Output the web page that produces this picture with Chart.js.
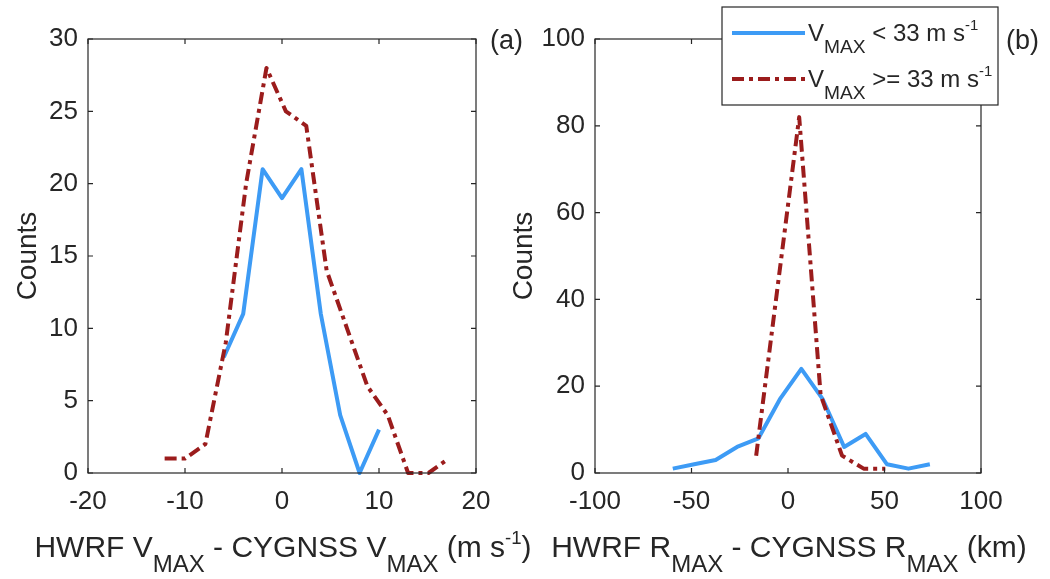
<!DOCTYPE html>
<html>
<head>
<meta charset="utf-8">
<script src="https://cdn.jsdelivr.net/npm/chart.js@4.4.1/dist/chart.umd.min.js"></script>
<style>
  html, body { margin: 0; padding: 0; background: #ffffff; }
  #wrap { position: relative; width: 1050px; height: 579px; overflow: hidden; }
  #wrap canvas { position: absolute; left: 0; top: 0; }
</style>
</head>
<body>
<div id="wrap">
  <canvas id="panelA" width="1050" height="579"></canvas>
  <canvas id="panelB" width="1050" height="579"></canvas>
</div>
<script>
// ---- Panel (a): HWRF VMAX - CYGNSS VMAX histogram counts ----
const vmaxWeakX   = [-6, -4, -2, 0, 2, 4, 6, 8, 10];
const vmaxWeakY   = [8, 11, 21, 19, 21, 11, 4, 0, 3];
const vmaxStrongX = [-12.1, -10.0, -7.9, -5.8, -3.7, -1.6, 0.4, 2.5, 4.6, 6.7, 8.8, 10.9, 13.0, 15.1, 17.2];
const vmaxStrongY = [1, 1, 2, 9, 20, 28, 25, 24, 14, 10, 6, 4, 0, 0, 1];
const vmaxXTicks  = [-20, -10, 0, 10, 20];
const vmaxYTicks  = [0, 5, 10, 15, 20, 25, 30];

// ---- Panel (b): HWRF RMAX - CYGNSS RMAX histogram counts ----
const rmaxWeakX   = [-59.7, -48.6, -37.5, -26.4, -15.3, -4.2, 6.9, 18.0, 29.1, 40.2, 51.3, 62.4, 73.5];
const rmaxWeakY   = [1, 2, 3, 6, 8, 17, 24, 17, 6, 9, 2, 1, 2];
const rmaxStrongX = [-16.5, 5.8, 16.9, 28.0, 39.2, 50.4];
const rmaxStrongY = [4, 82, 18, 4, 1, 1];
const rmaxXTicks  = [-100, -50, 0, 50, 100];
const rmaxYTicks  = [0, 20, 40, 60, 80, 100];

const seriesNames = ['< 33 m s', '>= 33 m s'];

const FONT = "'Liberation Sans', Arial, Helvetica, sans-serif";
const INK = '#262626';
const BLUE = '#3d9bf5';
const RED = '#9b1c1c';
const RED_DASH = [12, 5, 4, 5];

function pts(xs, ys) { return xs.map((x, i) => ({ x: x, y: ys[i] })); }

// Draws a run of text pieces with subscripts / superscripts, starting at x (or centred on x).
function richText(ctx, pieces, x, y, size, align) {
  const styles = {
    n:   { f: size,        dy: 0 },
    sub: { f: size * 0.8,  dy: size * 0.5 },
    sup: { f: size * 0.62, dy: -size * 0.45 }
  };
  let total = 0;
  pieces.forEach(p => {
    ctx.font = styles[p.s].f + 'px ' + FONT;
    p.w = ctx.measureText(p.t).width;
    total += p.w;
  });
  let cx = align === 'center' ? x - total / 2 : x;
  ctx.textBaseline = 'alphabetic';
  ctx.textAlign = 'left';
  pieces.forEach(p => {
    ctx.font = styles[p.s].f + 'px ' + FONT;
    ctx.fillText(p.t, cx, y + styles[p.s].dy);
    cx += p.w;
  });
}

// Axis box plus inward tick marks on all four sides, drawn from the scales.
const boxPlugin = {
  id: 'boxTicks',
  afterDatasetsDraw(chart) {
    const { ctx, chartArea: a, scales } = chart;
    ctx.save();
    ctx.strokeStyle = INK;
    ctx.lineWidth = 1.2;
    ctx.strokeRect(a.left, a.top, a.right - a.left, a.bottom - a.top);
    const L = 5;
    ctx.beginPath();
    scales.x.ticks.forEach(t => {
      const px = scales.x.getPixelForValue(t.value);
      ctx.moveTo(px, a.bottom); ctx.lineTo(px, a.bottom - L);
      ctx.moveTo(px, a.top);    ctx.lineTo(px, a.top + L);
    });
    scales.y.ticks.forEach(t => {
      const py = scales.y.getPixelForValue(t.value);
      ctx.moveTo(a.left, py);  ctx.lineTo(a.left + L, py);
      ctx.moveTo(a.right, py); ctx.lineTo(a.right - L, py);
    });
    ctx.stroke();
    ctx.restore();
  }
};

// X-axis title with subscripts and the panel letter.
const labelPlugin = {
  id: 'panelLabels',
  afterDraw(chart, args, opts) {
    const { ctx, chartArea: a } = chart;
    ctx.save();
    ctx.fillStyle = INK;
    richText(ctx, opts.xTitle, (a.left + a.right) / 2 + 1, opts.titleY, 30, 'center');
    ctx.font = '27px ' + FONT;
    ctx.textAlign = 'left';
    ctx.textBaseline = 'alphabetic';
    ctx.fillText(opts.letter, opts.letterX, opts.letterY);
    ctx.restore();
  }
};

// Legend box with line samples taken from the datasets' own styles.
const legendPlugin = {
  id: 'subLegend',
  afterDraw(chart, args, opts) {
    if (!opts.show) return;
    const { ctx } = chart;
    const b = opts.box;
    ctx.save();
    ctx.fillStyle = '#ffffff';
    ctx.fillRect(b.x, b.y, b.w, b.h);
    ctx.strokeStyle = INK;
    ctx.lineWidth = 1.2;
    ctx.strokeRect(b.x, b.y, b.w, b.h);
    chart.data.datasets.forEach((ds, i) => {
      const ly = b.y + opts.rowY[i];
      ctx.strokeStyle = ds.borderColor;
      ctx.lineWidth = ds.borderWidth;
      ctx.setLineDash(ds.borderDash || []);
      ctx.beginPath();
      ctx.moveTo(b.x + 10, ly);
      ctx.lineTo(b.x + 83, ly);
      ctx.stroke();
      ctx.setLineDash([]);
      ctx.fillStyle = INK;
      richText(ctx, [
        { t: 'V', s: 'n' }, { t: 'MAX', s: 'sub' },
        { t: ' ' + seriesNames[i], s: 'n' }, { t: '-1', s: 'sup' }
      ], b.x + 86, ly + 8, 24, 'left');
    });
    ctx.restore();
  }
};

function makeChart(id, cfg) {
  return new Chart(document.getElementById(id), {
    type: 'line',
    data: {
      datasets: [
        {
          label: 'VMAX < 33 m s-1',
          data: pts(cfg.weakX, cfg.weakY),
          borderColor: BLUE, borderWidth: 4, pointRadius: 0, borderJoinStyle: 'round',
          tension: 0, fill: false, clip: false, order: 2
        },
        {
          label: 'VMAX >= 33 m s-1',
          data: pts(cfg.strongX, cfg.strongY),
          borderColor: RED, borderWidth: 4, borderDash: RED_DASH, pointRadius: 0, borderJoinStyle: 'round',
          tension: 0, fill: false, clip: false, order: 1
        }
      ]
    },
    options: {
      responsive: false,
      animation: false,
      layout: { padding: cfg.padding },
      plugins: {
        legend: { display: false },
        tooltip: { enabled: false },
        panelLabels: cfg.labels,
        subLegend: cfg.legend
      },
      scales: {
        x: {
          type: 'linear',
          min: cfg.xTicks[0], max: cfg.xTicks[cfg.xTicks.length - 1],
          afterBuildTicks: s => { s.ticks = cfg.xTicks.map(v => ({ value: v })); },
          afterFit: s => { s.height = cfg.xAxisH; },
          grid: { display: false, drawTicks: false },
          border: { display: false },
          ticks: { color: INK, font: { family: FONT, size: 26 }, padding: 13, maxRotation: 0, autoSkip: false }
        },
        y: {
          type: 'linear',
          min: cfg.yTicks[0], max: cfg.yTicks[cfg.yTicks.length - 1],
          afterBuildTicks: s => { s.ticks = cfg.yTicks.map(v => ({ value: v })); },
          afterFit: s => { s.width = cfg.yAxisW; },
          grid: { display: false, drawTicks: false },
          border: { display: false },
          title: { display: true, text: 'Counts', color: INK, font: { family: FONT, size: 28 }, padding: { top: cfg.titlePad, bottom: 0 } },
          ticks: { color: INK, font: { family: FONT, size: 26 }, padding: 10, autoSkip: false }
        }
      }
    },
    plugins: [boxPlugin, labelPlugin, legendPlugin]
  });
}

makeChart('panelA', {
  weakX: vmaxWeakX, weakY: vmaxWeakY, strongX: vmaxStrongX, strongY: vmaxStrongY,
  xTicks: vmaxXTicks, yTicks: vmaxYTicks,
  padding: { left: 0, right: 574, top: 39, bottom: 0 },
  yAxisW: 88, xAxisH: 106, titlePad: 11,
  labels: {
    xTitle: [
      { t: 'HWRF V', s: 'n' }, { t: 'MAX', s: 'sub' },
      { t: ' - CYGNSS V', s: 'n' }, { t: 'MAX', s: 'sub' },
      { t: ' (m s', s: 'n' }, { t: '-1', s: 'sup' }, { t: ')', s: 'n' }
    ],
    titleY: 557, letter: '(a)', letterX: 490, letterY: 49
  },
  legend: { show: false }
});

makeChart('panelB', {
  weakX: rmaxWeakX, weakY: rmaxWeakY, strongX: rmaxStrongX, strongY: rmaxStrongY,
  xTicks: rmaxXTicks, yTicks: rmaxYTicks,
  padding: { left: 500, right: 69, top: 39, bottom: 0 },
  yAxisW: 95, xAxisH: 106, titlePad: 7,
  labels: {
    xTitle: [
      { t: 'HWRF R', s: 'n' }, { t: 'MAX', s: 'sub' },
      { t: ' - CYGNSS R', s: 'n' }, { t: 'MAX', s: 'sub' },
      { t: ' (km)', s: 'n' }
    ],
    titleY: 557, letter: '(b)', letterX: 1006, letterY: 49
  },
  legend: { show: true, box: { x: 722, y: 7, w: 276, h: 98 }, rowY: [26, 72] }
});
</script>
</body>
</html>
